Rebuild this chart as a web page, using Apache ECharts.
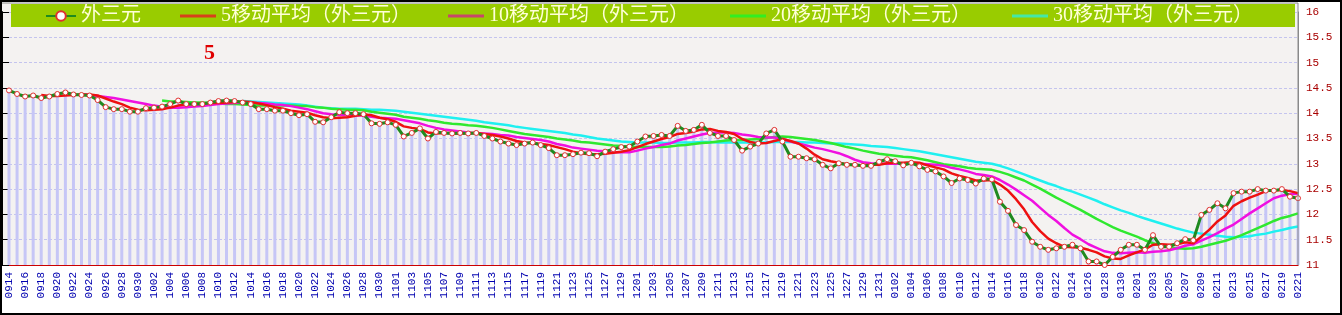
<!DOCTYPE html>
<html>
<head>
<meta charset="utf-8">
<script src="https://cdn.jsdelivr.net/npm/echarts@6/dist/echarts.min.js"></script>
<style>
  html, body { margin: 0; padding: 0; background: #fff; }
  #chart { width: 1342px; height: 315px; }
</style>
</head>
<body>
<div id="chart"></div>
<script>
// 日期（每天一个点）
const dates = [
  '0914','0915','0916','0917','0918','0919','0920','0921','0922','0923','0924','0925','0926','0927','0928','0929','0930',
  '1001','1002','1003','1004','1005','1006','1007','1008','1009','1010','1011','1012','1013','1014','1015','1016',
  '1017','1018','1019','1020','1021','1022','1023','1024','1025','1026','1027','1028','1029','1030','1031',
  '1101','1102','1103','1104','1105','1106','1107','1108','1109','1110','1111','1112','1113','1114','1115',
  '1116','1117','1118','1119','1120','1121','1122','1123','1124','1125','1126','1127','1128','1129','1130',
  '1201','1202','1203','1204','1205','1206','1207','1208','1209','1210','1211','1212','1213','1214','1215','1216',
  '1217','1218','1219','1220','1221','1222','1223','1224','1225','1226','1227','1228','1229','1230','1231',
  '0101','0102','0103','0104','0105','0106','0107','0108','0109','0110','0111','0112','0113','0114','0115','0116',
  '0117','0118','0119','0120','0121','0122','0123','0124','0125','0126','0127','0128','0129','0130','0131',
  '0201','0202','0203','0204','0205','0206','0207','0208','0209','0210','0211','0212','0213','0214','0215','0216',
  '0217','0218','0219','0220','0221'
]

// 外三元
const waiSanYuan = [
  14.45, 14.38, 14.33, 14.35, 14.30, 14.33, 14.38, 14.41, 14.37, 14.36,
  14.35, 14.26, 14.12, 14.08, 14.08, 14.03, 14.03, 14.10, 14.11, 14.13,
  14.18, 14.25, 14.18, 14.18, 14.18, 14.21, 14.24, 14.25, 14.24, 14.21,
  14.18, 14.08, 14.08, 14.05, 14.05, 14.00, 13.96, 13.98, 13.83, 13.82,
  13.92, 14.02, 14.00, 14.00, 13.98, 13.80, 13.79, 13.82, 13.77, 13.54,
  13.61, 13.70, 13.50, 13.63, 13.61, 13.60, 13.61, 13.60, 13.61, 13.55,
  13.50, 13.44, 13.40, 13.37, 13.40, 13.42, 13.37, 13.31, 13.17, 13.17,
  13.19, 13.22, 13.21, 13.15, 13.24, 13.29, 13.33, 13.34, 13.44, 13.54,
  13.55, 13.57, 13.55, 13.75, 13.65, 13.67, 13.77, 13.61, 13.55, 13.55,
  13.47, 13.26, 13.34, 13.40, 13.60, 13.67, 13.44, 13.14, 13.14, 13.11,
  13.09, 12.98, 12.91, 13.01, 12.98, 12.98, 12.96, 12.96, 13.04, 13.09,
  13.05, 12.97, 13.02, 12.95, 12.88, 12.85, 12.75, 12.62, 12.71, 12.68,
  12.61, 12.71, 12.69, 12.25, 12.07, 11.79, 11.69, 11.46, 11.36, 11.30,
  11.33, 11.36, 11.40, 11.33, 11.07, 11.07, 11.00, 11.16, 11.30, 11.40,
  11.40, 11.30, 11.59, 11.36, 11.36, 11.43, 11.51, 11.49, 11.99, 12.09,
  12.22, 12.12, 12.42, 12.45, 12.45, 12.50, 12.47, 12.47, 12.50, 12.35,
  12.32
]

// 5移动平均
const ma5 = [null, null, null, null,
  14.36, 14.34, 14.34, 14.35, 14.36, 14.37,
  14.37, 14.35, 14.29, 14.23, 14.18, 14.11, 14.07, 14.06, 14.07, 14.08,
  14.11, 14.15, 14.17, 14.18, 14.19, 14.20, 14.20, 14.21, 14.22, 14.23,
  14.22, 14.19, 14.16, 14.12, 14.09, 14.05, 14.03, 14.01, 13.96, 13.92,
  13.90, 13.91, 13.92, 13.95, 13.98, 13.96, 13.91, 13.88, 13.83, 13.74,
  13.71, 13.69, 13.62, 13.60, 13.61, 13.61, 13.59, 13.61, 13.61, 13.59,
  13.57, 13.54, 13.50, 13.45, 13.42, 13.41, 13.39, 13.37, 13.33, 13.29,
  13.24, 13.21, 13.19, 13.19, 13.20, 13.22, 13.24, 13.27, 13.33, 13.39,
  13.44, 13.49, 13.53, 13.59, 13.61, 13.64, 13.68, 13.69, 13.65, 13.63,
  13.59, 13.49, 13.43, 13.40, 13.41, 13.45, 13.49, 13.45, 13.40, 13.30,
  13.18, 13.09, 13.05, 13.02, 12.99, 12.97, 12.97, 12.98, 12.98, 13.01,
  13.02, 13.02, 13.03, 13.02, 12.97, 12.93, 12.89, 12.81, 12.76, 12.72,
  12.67, 12.67, 12.68, 12.59, 12.47, 12.30, 12.10, 11.85, 11.67, 11.52,
  11.43, 11.36, 11.35, 11.34, 11.30, 11.25, 11.17, 11.13, 11.12, 11.19,
  11.25, 11.31, 11.40, 11.41, 11.40, 11.41, 11.45, 11.43, 11.56, 11.70,
  11.86, 11.98, 12.17, 12.26, 12.33, 12.39, 12.46, 12.47, 12.48, 12.46,
  12.42
]

// 10移动平均
const ma10 = [null, null, null, null, null, null, null, null, null,
  14.37,
  14.36, 14.34, 14.32, 14.30, 14.27, 14.24, 14.21, 14.18, 14.15, 14.13,
  14.11, 14.11, 14.12, 14.13, 14.14, 14.16, 14.18, 14.19, 14.20, 14.21,
  14.21, 14.20, 14.19, 14.17, 14.16, 14.14, 14.11, 14.08, 14.04, 14.00,
  13.98, 13.97, 13.96, 13.96, 13.95, 13.93, 13.91, 13.90, 13.89, 13.86,
  13.83, 13.80, 13.75, 13.71, 13.68, 13.66, 13.64, 13.62, 13.60, 13.60,
  13.59, 13.57, 13.56, 13.53, 13.51, 13.49, 13.47, 13.44, 13.39, 13.36,
  13.32, 13.30, 13.28, 13.26, 13.25, 13.23, 13.23, 13.23, 13.26, 13.30,
  13.33, 13.37, 13.40, 13.46, 13.50, 13.54, 13.58, 13.61, 13.62, 13.62,
  13.61, 13.58, 13.56, 13.53, 13.52, 13.52, 13.49, 13.44, 13.40, 13.36,
  13.32, 13.29, 13.25, 13.21, 13.15, 13.08, 13.03, 13.01, 13.00, 13.00,
  13.00, 13.00, 13.01, 13.00, 12.99, 12.98, 12.96, 12.92, 12.89, 12.85,
  12.80, 12.78, 12.75, 12.68, 12.59, 12.49, 12.38, 12.27, 12.13, 11.99,
  11.87, 11.73, 11.60, 11.51, 11.41, 11.34, 11.27, 11.24, 11.23, 11.24,
  11.25, 11.24, 11.26, 11.27, 11.29, 11.33, 11.38, 11.41, 11.48, 11.55,
  11.63, 11.72, 11.80, 11.91, 12.02, 12.12, 12.22, 12.32, 12.37, 12.40,
  12.41
]

// 20移动平均
const ma20 = [null, null, null, null, null, null, null, null, null, null,
  null, null, null, null, null, null, null, null, null,
  14.25,
  14.23, 14.23, 14.22, 14.21, 14.21, 14.20, 14.19, 14.18, 14.18, 14.17,
  14.16, 14.15, 14.15, 14.15, 14.15, 14.15, 14.14, 14.14, 14.12, 14.11,
  14.09, 14.08, 14.07, 14.07, 14.06, 14.03, 14.01, 13.99, 13.97, 13.93,
  13.91, 13.89, 13.86, 13.84, 13.81, 13.79, 13.78, 13.76, 13.75, 13.73,
  13.71, 13.68, 13.65, 13.62, 13.59, 13.57, 13.55, 13.53, 13.50, 13.48,
  13.46, 13.43, 13.42, 13.40, 13.38, 13.36, 13.35, 13.33, 13.33, 13.33,
  13.33, 13.33, 13.34, 13.36, 13.37, 13.39, 13.41, 13.42, 13.44, 13.46,
  13.47, 13.47, 13.48, 13.49, 13.51, 13.53, 13.54, 13.53, 13.51, 13.49,
  13.47, 13.44, 13.41, 13.37, 13.33, 13.30, 13.26, 13.23, 13.20, 13.18,
  13.16, 13.14, 13.13, 13.10, 13.07, 13.03, 12.99, 12.97, 12.95, 12.92,
  12.90, 12.89, 12.88, 12.84, 12.79, 12.73, 12.67, 12.59, 12.51, 12.42,
  12.33, 12.25, 12.17, 12.09, 12.00, 11.91, 11.83, 11.75, 11.68, 11.62,
  11.56, 11.49, 11.43, 11.39, 11.35, 11.33, 11.32, 11.33, 11.36, 11.40,
  11.44, 11.48, 11.53, 11.59, 11.66, 11.73, 11.80, 11.87, 11.93, 11.97,
  12.02
]

// 30移动平均
const ma30 = [null, null, null, null, null, null, null, null, null, null,
  null, null, null, null, null, null, null, null, null, null,
  null, null, null, null, null, null, null, null, null,
  14.24,
  14.23, 14.22, 14.21, 14.20, 14.19, 14.18, 14.17, 14.15, 14.13, 14.11,
  14.10, 14.09, 14.09, 14.09, 14.08, 14.07, 14.07, 14.06, 14.05, 14.03,
  14.01, 13.99, 13.97, 13.95, 13.93, 13.91, 13.89, 13.87, 13.85, 13.82,
  13.80, 13.78, 13.76, 13.73, 13.71, 13.69, 13.67, 13.65, 13.63, 13.61,
  13.58, 13.56, 13.53, 13.50, 13.48, 13.46, 13.44, 13.43, 13.42, 13.42,
  13.42, 13.41, 13.41, 13.42, 13.42, 13.42, 13.43, 13.43, 13.42, 13.42,
  13.42, 13.42, 13.42, 13.42, 13.42, 13.43, 13.43, 13.43, 13.43, 13.42,
  13.42, 13.41, 13.40, 13.40, 13.39, 13.38, 13.37, 13.35, 13.34, 13.33,
  13.31, 13.29, 13.27, 13.25, 13.22, 13.19, 13.16, 13.13, 13.10, 13.07,
  13.04, 13.02, 13.00, 12.96, 12.91, 12.85, 12.79, 12.73, 12.67, 12.61,
  12.56, 12.50, 12.45, 12.39, 12.33, 12.27, 12.20, 12.14, 12.08, 12.03,
  11.97, 11.92, 11.87, 11.82, 11.77, 11.72, 11.68, 11.64, 11.62, 11.60,
  11.58, 11.56, 11.55, 11.56, 11.57, 11.60, 11.62, 11.66, 11.69, 11.73,
  11.76
]

const names = ['外三元', '5移动平均（外三元）', '10移动平均（外三元）', '20移动平均（外三元）', '30移动平均（外三元）']

const chart = echarts.init(document.getElementById('chart'))

const legendText = {
  color: '#ffffd8',
  fontSize: 20,
  fontFamily: '"Liberation Serif", "Noto Sans CJK SC", serif'
}
function oneLegend(name, left, width, color) {
  const item = { name: name }
  const lg = {
    data: [item],
    left: left,
    top: 6,
    padding: 0,
    itemWidth: width,
    itemHeight: 12,
    selectedMode: false,
    textStyle: legendText
  }
  if (color) {
    // 均线图例只画一条粗线
    item.icon = 'rect'
    item.itemStyle = { color: color }
    lg.itemHeight = 3
  }
  return lg
}

const option = {
  animation: false,
  backgroundColor: '#fff',
  graphic: [
    { type: 'rect', z: -100, shape: { x: 2, y: 3, width: 1296, height: 262 }, style: { fill: '#f4f2f1' } },
    { type: 'rect', z: 3, shape: { x: 11, y: 4, width: 1284, height: 23 }, style: { fill: '#99cc00' } },
    { type: 'polyline', z: 5, shape: { points: [[2, 3], [1298, 3], [1298, 265]] }, style: { stroke: '#8a8a8a', lineWidth: 1, fill: null } },
    { type: 'rect', z: 6, shape: { x: 1, y: 1, width: 1340, height: 313 }, style: { stroke: '#000', lineWidth: 2, fill: null } },
    {
      type: 'text', z: 6, left: 204, top: 42,
      style: { text: '5', fill: '#e00000', font: 'bold 22px "Liberation Serif", serif' }
    }
  ],
  legend: [
    oneLegend(names[0], 45, 30),
    oneLegend(names[1], 180, 36, '#d8401a'),
    oneLegend(names[2], 448, 36, '#c8466a'),
    oneLegend(names[3], 730, 36, '#33ee22'),
    oneLegend(names[4], 1012, 36, '#44e8a8')
  ],
  grid: { left: 9, right: 44, top: 12, bottom: 50 },
  xAxis: {
    type: 'category',
    boundaryGap: false,
    data: dates,
    axisLine: { lineStyle: { color: '#cc0000', width: 1 } },
    axisTick: { show: true, inside: true, length: 3, interval: 1, lineStyle: { color: '#cc0000' } },
    axisLabel: {
      rotate: 90,
      interval: 1,
      margin: 7,
      color: '#0000b0',
      fontSize: 11,
      fontFamily: '"Liberation Mono", monospace'
    },
    splitLine: { show: false }
  },
  yAxis: [
    {
      type: 'value',
      position: 'right',
      min: 11,
      max: 16,
      interval: 0.5,
      axisLine: { show: true, lineStyle: { color: '#8a8a8a' } },
      axisTick: { show: false },
      axisLabel: { color: '#a80000', fontSize: 11, margin: 8, fontFamily: '"Liberation Mono", monospace' },
      splitLine: { show: true, lineStyle: { color: '#c4c4ee', type: [3, 2] } }
    },
    {
      type: 'value',
      position: 'left',
      offset: 7,
      min: 11,
      max: 16,
      interval: 0.5,
      axisLine: { show: true, lineStyle: { color: '#000', width: 2 } },
      axisTick: { show: true, inside: true, length: 7, lineStyle: { color: '#000' } },
      axisLabel: { show: false },
      splitLine: { show: false }
    }
  ],
  series: [
    {
      type: 'bar',
      data: waiSanYuan,
      barWidth: 3,
      silent: true,
      itemStyle: { color: '#c6c6f6' },
      z: 1
    },
    {
      name: names[4], type: 'line', data: ma30, symbol: 'none',
      itemStyle: { color: '#1ff0f0' }, lineStyle: { color: '#1ff0f0', width: 2.5 }
    },
    {
      name: names[3], type: 'line', data: ma20, symbol: 'none',
      itemStyle: { color: '#2fe82f' }, lineStyle: { color: '#2fe82f', width: 2.5 }
    },
    {
      name: names[2], type: 'line', data: ma10, symbol: 'none',
      itemStyle: { color: '#f010e0' }, lineStyle: { color: '#f010e0', width: 2.5 }
    },
    {
      name: names[0], type: 'line', data: waiSanYuan,
      symbol: 'circle', symbolSize: 5, showAllSymbol: true,
      itemStyle: { color: '#ffffff', borderColor: '#e03030', borderWidth: 1 },
      lineStyle: { color: '#1f8a1f', width: 3 },
      z: 4
    },
    {
      name: names[1], type: 'line', data: ma5, symbol: 'none',
      itemStyle: { color: '#ee1010' }, lineStyle: { color: '#ee1010', width: 2.5 },
      z: 3
    }
  ]
}

chart.setOption(option)
</script>
</body>
</html>
